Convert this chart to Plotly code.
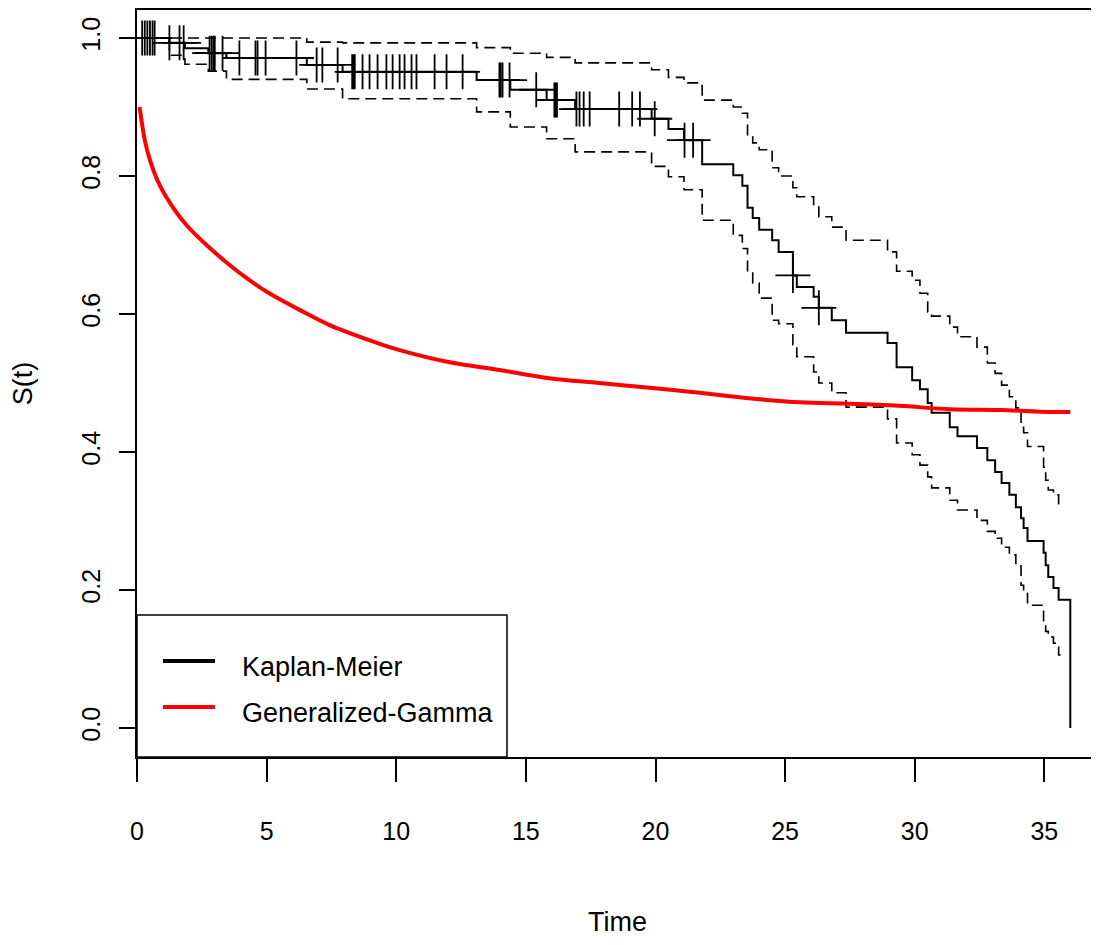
import numpy as np
import plotly.graph_objects as go

# ---- Kaplan-Meier estimate with 95% CI ----
km_time = [0, 1.25, 1.85, 2.75, 3.45, 6.55, 7.93, 13.1, 14.4, 15.8, 16.9, 19.85,
           20.5, 21.1, 21.8, 23.0, 23.35, 23.55, 23.75, 24.0, 24.5, 24.75, 25.3,
           25.45, 26.1, 26.3, 26.8, 27.35, 28.95, 29.3, 29.9, 30.2, 30.5, 30.65,
           31.35, 31.65, 32.4, 32.8, 33.1, 33.35, 33.65, 33.9, 34.1, 34.2, 34.35,
           34.97, 35.05, 35.15, 35.35, 35.55, 36.0]
km_surv = [1.0, 0.993, 0.985, 0.978, 0.971, 0.961, 0.951, 0.939, 0.925, 0.910,
           0.897, 0.883, 0.868, 0.852, 0.817, 0.801, 0.786, 0.754, 0.739, 0.722,
           0.707, 0.690, 0.656, 0.639, 0.625, 0.609, 0.591, 0.573, 0.558, 0.523,
           0.504, 0.491, 0.471, 0.457, 0.436, 0.423, 0.406, 0.388, 0.371, 0.355,
           0.338, 0.320, 0.304, 0.290, 0.271, 0.254, 0.236, 0.219, 0.203, 0.186,
           0.0]
km_upper = [1.0, 1.0, 1.0, 1.0, 1.0, 0.994, 0.993, 0.986, 0.978, 0.972, 0.964,
            0.954, 0.943, 0.935, 0.910, 0.900, 0.891, 0.857, 0.848, 0.838, 0.812,
            0.800, 0.783, 0.770, 0.755, 0.741, 0.726, 0.707, 0.690, 0.662, 0.649,
            0.630, 0.603, 0.597, 0.581, 0.567, 0.552, 0.529, 0.514, 0.497, 0.480,
            0.464, 0.440, 0.428, 0.408, 0.378, 0.359, 0.345, 0.338, 0.323, None]
km_lower = [1.0, 0.975, 0.962, 0.952, 0.940, 0.926, 0.912, 0.893, 0.871, 0.854,
            0.835, 0.814, 0.799, 0.780, 0.736, 0.714, 0.695, 0.661, 0.645, 0.623,
            0.591, 0.586, 0.555, 0.538, 0.516, 0.500, 0.486, 0.465, 0.448, 0.413,
            0.396, 0.381, 0.364, 0.348, 0.330, 0.316, 0.301, 0.285, 0.275, 0.262,
            0.251, 0.235, 0.207, 0.195, 0.178, 0.154, 0.140, 0.132, 0.123, 0.106,
            None]
ci_end_time = 35.62

# censoring times (marked with "+")
censor_time = [0.2, 0.3, 0.4, 0.5, 0.6, 0.68, 1.25, 1.64, 1.8, 2.8, 2.88, 2.95, 3.0,
               3.3, 3.95, 4.57, 4.65, 4.96, 6.15, 6.93, 7.15, 7.74, 8.3, 8.35, 8.4,
               8.7, 8.97, 9.28, 9.62, 9.86, 10.13, 10.32, 10.59, 10.78, 11.48, 11.94,
               12.56, 13.98, 14.03, 14.1, 14.37, 15.4, 16.1, 16.15, 16.2, 16.95,
               17.07, 17.23, 17.46, 18.6, 19.1, 19.4, 19.97, 21.12, 21.45, 25.3, 26.3]

# ---- Generalized-Gamma fitted survival ----
gg_time = [0.1, 0.3, 0.5, 0.87, 1.45, 2.0, 2.8, 3.57, 4.34, 5.1, 6.27, 7.43, 8.97,
           10.1, 12.06, 13.98, 15.9, 17.84, 19.77, 21.7, 23.6, 25.56, 27.5, 29.4,
           31.35, 33.3, 35.2, 36.0]
gg_surv = [0.900, 0.852, 0.823, 0.787, 0.751, 0.725, 0.696, 0.671, 0.649, 0.630,
           0.606, 0.584, 0.562, 0.548, 0.530, 0.519, 0.507, 0.500, 0.493, 0.486,
           0.478, 0.472, 0.470, 0.467, 0.462, 0.461, 0.458, 0.458]

x_ticks = [0, 5, 10, 15, 20, 25, 30, 35]
y_ticks = [0.0, 0.2, 0.4, 0.6, 0.8, 1.0]
y_tick_text = ["0.0", "0.2", "0.4", "0.6", "0.8", "1.0"]
legend_labels = ["Kaplan-Meier", "Generalized-Gamma"]
legend_colors = ["black", "red"]

FONT = "Liberation Sans Narrow, Arial Narrow, Liberation Sans, Arial, sans-serif"

fig = go.Figure()

# confidence limits (dashed step lines)
ci_x = km_time[:-1] + [ci_end_time]
for vals in (km_upper, km_lower):
    ci_y = vals[:-1] + [vals[-2]]
    fig.add_trace(go.Scatter(x=ci_x, y=ci_y, mode="lines", line_shape="hv",
                             line=dict(color="black", width=1.6, dash="11px,6px"),
                             showlegend=False, hoverinfo="skip"))

# KM step curve
fig.add_trace(go.Scatter(x=km_time, y=km_surv, mode="lines", line_shape="hv",
                         line=dict(color="black", width=2),
                         showlegend=False))

# censor marks
t_arr = np.array(km_time)
s_arr = np.array(km_surv)
idx = np.searchsorted(t_arr, np.array(censor_time), side="right") - 1
fig.add_trace(go.Scatter(x=censor_time, y=s_arr[idx], mode="markers",
                         marker=dict(symbol="cross-thin", size=25,
                                     line=dict(color="black", width=1.8)),
                         showlegend=False))

# Generalized gamma curve
fig.add_trace(go.Scatter(x=gg_time, y=gg_surv, mode="lines", line_shape="spline",
                         line=dict(color="red", width=4), showlegend=False))

# legend drawn R-style (box, line samples, labels) in paper coordinates
shapes = [dict(type="rect", xref="paper", yref="paper", x0=0, x1=0.3854, y0=0,
               y1=0.190, line=dict(color="black", width=1.5), fillcolor="white",
               layer="above")]
annotations = []
leg_y = [0.1285, 0.0669]
for lab, col, yy in zip(legend_labels, legend_colors, leg_y):
    shapes.append(dict(type="line", xref="paper", yref="paper", x0=0.0271, x1=0.0813,
                       y0=yy, y1=yy, line=dict(color=col, width=4), layer="above"))
    annotations.append(dict(xref="paper", yref="paper", x=0.1073, y=yy - 0.008,
                            text=lab, showarrow=False, xanchor="left", yanchor="middle",
                            font=dict(family=FONT, size=27, color="black")))

annotations.append(dict(xref="paper", yref="paper", x=0.5, y=-0.2215, text="Time",
                        showarrow=False, xanchor="center", yanchor="middle",
                        font=dict(family=FONT, size=27, color="black")))
annotations.append(dict(xref="paper", yref="paper", x=-0.119, y=0.5, text="S(t)",
                        showarrow=False, xanchor="center", yanchor="middle",
                        textangle=-90,
                        font=dict(family=FONT, size=27, color="black")))

# the page body adds an 8px offset, so the figure is 8px smaller on each side
fig.update_layout(
    width=1091, height=937,
    margin=dict(l=129, r=2, t=2, b=188),
    paper_bgcolor="white", plot_bgcolor="white",
    font=dict(family=FONT, size=25, color="black"),
    shapes=shapes, annotations=annotations,
    showlegend=False,
)
fig.update_xaxes(range=[0, 37.03], tickvals=x_ticks, ticks="outside", ticklen=23,
                 tickwidth=1.5, tickcolor="black", showline=True, linecolor="black",
                 linewidth=1.5, mirror=True, showgrid=False, zeroline=False,
                 automargin=False,
                 ticklabelstandoff=28, tickfont=dict(family=FONT, size=25))
fig.update_yaxes(range=[-0.042, 1.0406], tickvals=y_ticks, ticktext=y_tick_text,
                 ticks="outside", ticklen=16, tickwidth=1.5, tickcolor="black",
                 showline=True, linecolor="black", linewidth=1.5, mirror=True,
                 showgrid=False, zeroline=False, tickangle=-90, automargin=False,
                 ticklabelstandoff=9, tickfont=dict(family=FONT, size=25))

fig.write_html("out.html")
